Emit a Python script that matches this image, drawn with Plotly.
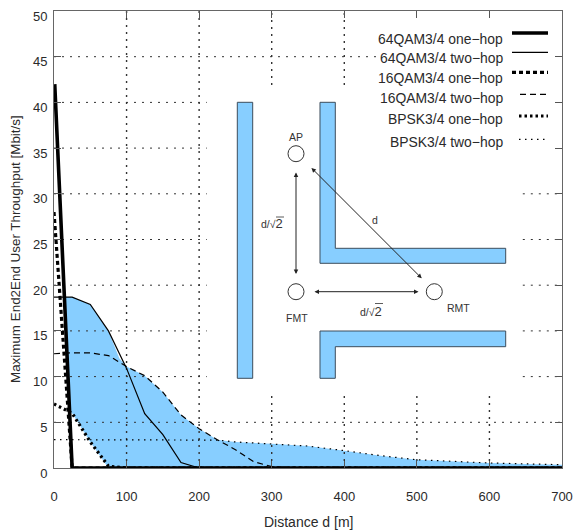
import plotly.graph_objects as go

W, H = 573, 531
L, R, T, B = 54, 562, 11, 468

# data
qam64_one_x = [1, 25, 50, 100, 200, 300, 400, 500, 600, 700]
qam64_one_y = [42, 0, 0, 0, 0, 0, 0, 0, 0, 0]
qam64_two_x = [0, 25, 50, 75, 100, 125, 150, 175, 200, 700]
qam64_two_y = [18.7, 18.7, 17.9, 15, 10.9, 5.95, 3.65, 0.6, 0, 0]
qam16_one_x = [0, 25, 700]
qam16_one_y = [28, 0, 0]
qam16_two_x = [0, 25, 50, 75, 100, 125, 150, 175, 200, 225, 250, 275, 300, 325, 700]
qam16_two_y = [12.5, 12.6, 12.6, 12.3, 11.1, 10.1, 8.3, 5.8, 4.3, 3.1, 2.0, 0.7, 0.15, 0, 0]
bpsk_one_x = [0, 25, 50, 75, 100, 700]
bpsk_one_y = [7, 6, 2.85, 0.2, 0, 0]
bpsk_two_x = [0, 25, 50, 100, 150, 200, 225, 250, 300, 350, 400, 450, 500, 550, 600, 650, 700]
bpsk_two_y = [3.1, 3.1, 3.1, 3.1, 3.1, 3.1, 3.05, 2.85, 2.65, 2.4, 1.9, 1.35, 0.9, 0.7, 0.55, 0.45, 0.36]

shade_x = [14, 25, 50, 75, 90, 100, 125, 150, 175, 200, 225, 250, 300, 350, 400, 450, 500, 550, 600, 650, 700, 700, 75, 50, 25, 21.4, 14]
shade_y = [18.7, 18.7, 17.9, 15, 12, 11.1, 10.1, 8.3, 5.8, 4.3, 3.1, 2.85, 2.65, 2.4, 1.9, 1.35, 0.9, 0.7, 0.55, 0.45, 0.36, 0, 0, 2.85, 6, 6, 18.7]

legend_labels = ["64QAM3/4 one\u2212hop", "64QAM3/4 two\u2212hop", "16QAM3/4 one\u2212hop",
                 "16QAM3/4 two\u2212hop", "BPSK3/4 one\u2212hop", "BPSK3/4 two\u2212hop"]
x_ticks = [0, 100, 200, 300, 400, 500, 600, 700]
y_ticks = [0, 5, 10, 15, 20, 25, 30, 35, 40, 45, 50]

# visible stretches of the dotted grid (the inset and the key interrupt it)
grid_v = {100: [(0, 50)], 200: [(0, 50)], 300: [(0, 8.2), (41.9, 50)], 400: [(0, 8.2), (41.9, 50)],
          500: [(0, 8.2)], 600: [(0, 8.2)]}
grid_h = {45: [(0, 449)], 40: [(0, 210.5)], 35: [(0, 210.5)], 30: [(0, 210.5), (646, 700)],
          25: [(0, 210.5), (646, 700)], 20: [(0, 210.5), (646, 700)], 15: [(0, 210.5), (646, 700)],
          10: [(0, 210.5), (646, 700)], 5: [(0, 700)]}

BLUE = "#87CEFF"
EDGE = "#3d4d5c"
TXT = "#2a2a2a"
GRID = "#333333"
FONT = "Liberation Sans, Arial, sans-serif"

styles = [
    dict(color="black", width=3.6),
    dict(color="black", width=1.2),
    dict(color="black", width=3.2, dash="4px,3px"),
    dict(color="black", width=1.2, dash="6px,4px"),
    dict(color="black", width=3.2, dash="2.5px,3px"),
    dict(color="black", width=1.2, dash="1.5px,4.5px"),
]

# paper coordinates relative to plot area
def xp(x):
    return (x - L) / (R - L)
def yp(y):
    return (B - y) / (B - T)

fig = go.Figure()
fig.add_trace(go.Scatter(x=shade_x, y=shade_y, mode="lines", fill="toself", fillcolor=BLUE,
                         line=dict(width=0), hoverinfo="skip", showlegend=False))
for xv, spans in grid_v.items():
    for a, b in spans:
        fig.add_trace(go.Scatter(x=[xv, xv], y=[a, b], mode="lines", hoverinfo="skip", showlegend=False,
                                 line=dict(color=GRID, width=1.4, dash="2px,5px")))
for yv, spans in grid_h.items():
    for a, b in spans:
        fig.add_trace(go.Scatter(x=[a, b], y=[yv, yv], mode="lines", hoverinfo="skip", showlegend=False,
                                 line=dict(color=GRID, width=1, dash="2px,6px")))
series = [(qam64_one_x, qam64_one_y), (qam64_two_x, qam64_two_y), (qam16_one_x, qam16_one_y),
          (qam16_two_x, qam16_two_y), (bpsk_one_x, bpsk_one_y), (bpsk_two_x, bpsk_two_y)]
order = [5, 4, 3, 2, 1, 0]
for i in order:
    xs, ys = series[i]
    fig.add_trace(go.Scatter(x=xs, y=ys, mode="lines", line=styles[i], name=legend_labels[i],
                             cliponaxis=False, showlegend=False))

shapes = []
annos = []
# walls
def poly(pts):
    d = "M " + " L ".join(f"{xp(a):.5f},{yp(b):.5f}" for a, b in pts) + " Z"
    shapes.append(dict(type="path", xref="paper", yref="paper", path=d, fillcolor=BLUE,
                       line=dict(color=EDGE, width=1), layer="above"))
poly([(237.3, 102.3), (252.7, 102.3), (252.7, 378.3), (237.3, 378.3)])
poly([(320, 102.3), (335.3, 102.3), (335.3, 248.3), (505.7, 248.3), (505.7, 263.3), (320, 263.3)])
poly([(320, 331), (505.7, 331), (505.7, 346.7), (335.3, 346.7), (335.3, 378.3), (320, 378.3)])
# nodes
for cx, cy in [(296, 153.7), (296, 291.7), (434.3, 291.7)]:
    shapes.append(dict(type="circle", xref="paper", yref="paper", x0=xp(cx - 8), x1=xp(cx + 8),
                       y0=yp(cy + 8), y1=yp(cy - 8), fillcolor="white",
                       line=dict(color="#333333", width=1), layer="above"))
# arrows
for x0, y0, x1, y1 in [(296, 171, 296, 274), (313, 291.7, 418.5, 291.7), (310, 166.5, 421.7, 278.3)]:
    annos.append(dict(xref="paper", yref="paper", x=xp(x1), y=yp(y1), axref="pixel", ayref="pixel",
                      ax=x0 - x1, ay=y0 - y1, text="", showarrow=True, arrowhead=2, startarrowhead=2,
                      arrowside="end+start", arrowsize=0.9, startarrowsize=0.9, arrowwidth=1,
                      arrowcolor="#222222", standoff=0, startstandoff=0))
root2 = 'd/\u221a<span style="font-size:13px">2</span>'
for s, x, y in [("AP", 296, 137), ("FMT", 297, 318), ("RMT", 458, 307.5), ("d", 375, 220),
                (root2, 272, 224), (root2, 371, 311)]:
    annos.append(dict(xref="paper", yref="paper", x=xp(x), y=yp(y), text=s, showarrow=False,
                      xanchor="center", yanchor="middle",
                      font=dict(family=FONT, size=10.5, color="#333333")))
for x0, x1, yy in [(276, 284, 217), (375, 383, 303.5)]:
    shapes.append(dict(type="line", xref="paper", yref="paper", x0=xp(x0), x1=xp(x1), y0=yp(yy), y1=yp(yy),
                       line=dict(color="#333333", width=0.8), layer="above"))
# key
key_y = [38.7, 58.5, 78, 98, 119, 142]
key_s = [33, 52.3, 72.3, 94.3, 116, 139.3]
key_x0 = [512, 512, 512, 520, 519, 519]
for i, lab in enumerate(legend_labels):
    annos.append(dict(xref="paper", yref="paper", x=xp(505), y=yp(key_y[i]), xanchor="right", yanchor="middle",
                      text=lab, showarrow=False, font=dict(family=FONT, size=13.9, color=TXT)))
    shapes.append(dict(type="line", xref="paper", yref="paper", x0=xp(key_x0[i]), x1=xp(548),
                       y0=yp(key_s[i]), y1=yp(key_s[i]), line=styles[i], layer="above"))

axis_common = dict(showline=True, linecolor="#666666", linewidth=1, mirror="ticks", ticks="inside",
                   ticklen=7, tickcolor="#555555", tickwidth=1, showgrid=False, zeroline=False,
                   tickfont=dict(family=FONT, size=13, color=TXT))
fig.update_layout(
    width=W, height=H, autosize=False, showlegend=False,
    paper_bgcolor="white", plot_bgcolor="white",
    margin=dict(l=L, r=W - R, t=T, b=H - B, pad=0, autoexpand=False),
    xaxis=dict(range=[0, 700], tickvals=x_ticks, ticklabelstandoff=16, **axis_common),
    yaxis=dict(range=[0, 50], tickvals=y_ticks, ticklabelstandoff=3, ticklabelshift=5, **axis_common),
    shapes=shapes,
    annotations=annos + [
        dict(xref="paper", yref="paper", x=xp(308), y=yp(522), text="Distance d [m]", showarrow=False,
             xanchor="center", yanchor="middle", font=dict(family=FONT, size=14, color=TXT)),
        dict(xref="paper", yref="paper", x=xp(15), y=yp(249), text="Maximum End2End User Throughput [Mbit/s]",
             xanchor="center", yanchor="middle", textangle=-90, showarrow=False,
             font=dict(family=FONT, size=13.4, color=TXT)),
    ],
)
fig.write_html("out.html", config=dict(displayModeBar=False),
               post_script="document.body.style.margin='0';document.body.style.overflow='hidden';")
